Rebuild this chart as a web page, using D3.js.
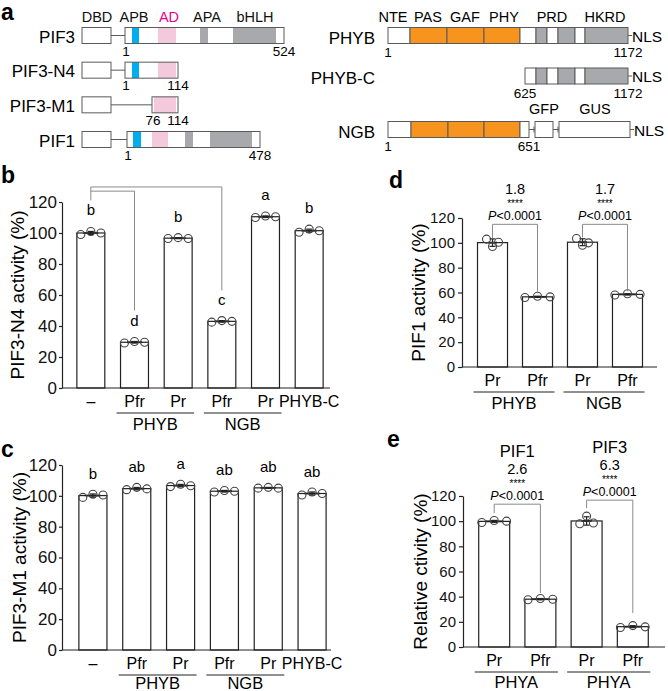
<!DOCTYPE html>
<html>
<head>
<meta charset="utf-8">
<script src="https://cdn.jsdelivr.net/npm/d3@7"></script>
<style>
body { margin: 0; background: #fff; }
svg { font-family: "Liberation Sans", Arial, sans-serif; }
</style>
</head>
<body>
<svg id="fig" width="668" height="691"></svg>
<script>
// ---- panel a: PIF constructs (diagram units, DBD starts at 0)
const pifNames = ["PIF3", "PIF3-N4", "PIF3-M1", "PIF1"];
const pifBody = [[43, 202], [43, 96], [70, 96], [45, 178]];
const pifDomains = [
  [["apb", 50, 57], ["ad", 76, 94], ["apa", 118, 126], ["bhlh", 151, 194]],
  [["apb", 50, 57], ["ad", 76, 94]],
  [["ad", 72, 94]],
  [["apb", 51, 59], ["ad", 70, 86], ["apa", 103, 111], ["bhlh", 128, 170]]
];
const pifEnds = [["1", "524"], ["1", "114"], ["76", "114"], ["1", "478"]];
const pifHeads = [["DBD", 15], ["APB", 52], ["AD", 87], ["APA", 125], ["bHLH", 173]];

// ---- panel a: phytochrome constructs
const phyNames = ["PHYB", "PHYB-C", "NGB"];
const phySegs = [
  [["w", 0, 22], ["o", 22, 59], ["o", 59, 96], ["o", 96, 132], ["w", 132, 148], ["g", 148, 159], ["w", 159, 170], ["g", 170, 187], ["w", 187, 197], ["g", 197, 240]],
  [["w", 137, 148], ["g", 148, 159], ["w", 159, 170], ["g", 170, 187], ["w", 187, 197], ["g", 197, 240]],
  [["w", 0, 23], ["o", 23, 60], ["o", 60, 96], ["o", 96, 132], ["w", 132, 141], ["w", 147, 165], ["w", 171, 242]]
];
const phyEnds = [[["1", 0], ["1172", 240]], [["625", 137], ["1172", 240]], [["1", 0], ["651", 141]]];
const phyHeads = [["NTE", 5], ["PAS", 40], ["GAF", 77], ["PHY", 116], ["PRD", 164], ["HKRD", 217]];
const ngbHeads = [["GFP", 156], ["GUS", 207]];

// ---- panel b
const bCats = ["\u2013", "Pfr", "Pr", "Pfr", "Pr", "PHYB-C"];
const bReps = [[99, 101, 100], [29, 30, 29.5], [96.5, 97, 96.5], [42.5, 43.5, 43], [110, 111, 110.5], [100.5, 102.5, 101.5]];
const bLetters = ["b", "d", "b", "c", "a", "b"];
const bGroups = [["PHYB", 1, 2], ["NGB", 3, 4]];

// ---- panel c
const cCats = ["\u2013", "Pfr", "Pr", "Pfr", "Pr", "PHYB-C"];
const cReps = [[99, 101, 100.5], [104, 105.5, 104.5], [106, 107.5, 106.5], [102.5, 103.5, 103], [105, 105.5, 105], [100.5, 102.5, 101.5]];
const cLetters = ["b", "ab", "a", "ab", "ab", "ab"];
const cGroups = [["PHYB", 1, 2], ["NGB", 3, 4]];

// ---- panel d
const dCats = ["Pr", "Pfr", "Pr", "Pfr"];
const dReps = [[103, 97, 100.5], [56, 57, 56.5], [103.5, 98, 100], [58, 59, 58.5]];
const dGroups = [["PHYB", 0, 1], ["NGB", 2, 3]];
const dStats = [["1.8", "P<0.0001"], ["1.7", "P<0.0001"]];

// ---- panel e
const eCats = ["Pr", "Pfr", "Pr", "Pfr"];
const eReps = [[99, 100.5, 100], [37.5, 38.5, 38], [98, 104, 98.5], [15.5, 17, 16]];
const eGroups = [["PHYA", 0, 1], ["PHYA", 2, 3]];
const eStats = [["PIF1", "2.6", "P<0.0001"], ["PIF3", "6.3", "P<0.0001"]];

const yTicks = [0, 20, 40, 60, 80, 100, 120];

const svg = d3.select("#fig");
const fill = {w: "#fff", o: "#f7941d", g: "#a7a9ac", apb: "#00aeef", ad: "#f5c9dc", apa: "#a7a9ac", bhlh: "#a7a9ac"};
const boxStroke = "#5a5a5a";

function panelLetter(t, x, y) {
  svg.append("text").attr("x", x).attr("y", y).attr("font-size", 23)
    .attr("font-weight", "bold").text(t);
}

// ================= panel a, left
panelLetter("a", 1, 20);
const xPif = d3.scaleLinear().domain([0, 202]).range([82, 284]);
const yPif = d3.scalePoint().domain(pifNames).range([35.5, 139.5]);
const bh = 16;

const ga = svg.append("g");
ga.selectAll("text.head").data(pifHeads).enter().append("text")
  .attr("x", d => xPif(d[1])).attr("y", 22).attr("text-anchor", "middle")
  .attr("font-size", 14.5).attr("fill", d => d[0] === "AD" ? "#ec008c" : "#111")
  .text(d => d[0]);

pifNames.forEach((name, i) => {
  const cy = yPif(name);
  const top = cy - bh / 2;
  ga.append("text").attr("x", 75).attr("y", cy + 7).attr("text-anchor", "end")
    .attr("font-size", 17).text(name);
  // DBD box and linker
  ga.append("line").attr("x1", xPif(29)).attr("x2", xPif(pifBody[i][0]))
    .attr("y1", cy).attr("y2", cy).attr("stroke", boxStroke);
  ga.append("rect").attr("x", xPif(0)).attr("y", top)
    .attr("width", xPif(29) - xPif(0)).attr("height", bh)
    .attr("fill", "#fff").attr("stroke", boxStroke);
  ga.append("rect").attr("x", xPif(pifBody[i][0])).attr("y", top)
    .attr("width", xPif(pifBody[i][1]) - xPif(pifBody[i][0])).attr("height", bh)
    .attr("fill", "#fff");
  ga.selectAll(null).data(pifDomains[i]).enter().append("rect")
    .attr("x", d => xPif(d[1])).attr("y", top)
    .attr("width", d => xPif(d[2]) - xPif(d[1])).attr("height", bh)
    .attr("fill", d => fill[d[0]]);
  ga.append("rect").attr("x", xPif(pifBody[i][0])).attr("y", top)
    .attr("width", xPif(pifBody[i][1]) - xPif(pifBody[i][0])).attr("height", bh)
    .attr("fill", "none").attr("stroke", boxStroke);
  ga.append("text").attr("x", xPif(pifBody[i][0]) + 1).attr("y", cy + 20)
    .attr("text-anchor", "middle").attr("font-size", 13.5).text(pifEnds[i][0]);
  ga.append("text").attr("x", xPif(pifBody[i][1])).attr("y", cy + 20)
    .attr("text-anchor", "middle").attr("font-size", 13.5).text(pifEnds[i][1]);
});

// ================= panel a, right
const xPhy = d3.scaleLinear().domain([0, 240]).range([388, 628]);
const yPhy = d3.scaleOrdinal().domain(phyNames).range([35.5, 76, 129.5]);
const gp = svg.append("g");
gp.selectAll("text.head").data(phyHeads).enter().append("text")
  .attr("x", d => xPhy(d[1])).attr("y", 22).attr("text-anchor", "middle")
  .attr("font-size", 14.5).text(d => d[0]);
gp.selectAll("text.ngbhead").data(ngbHeads).enter().append("text")
  .attr("x", d => xPhy(d[1])).attr("y", 114).attr("text-anchor", "middle")
  .attr("font-size", 14.5).text(d => d[0]);

phyNames.forEach((name, i) => {
  const cy = yPhy(name);
  const top = cy - bh / 2;
  const segs = phySegs[i];
  gp.append("text").attr("x", 375).attr("y", cy + 8).attr("text-anchor", "end")
    .attr("font-size", 17).text(name);
  segs.forEach((s, k) => {
    if (k > 0 && segs[k - 1][2] < s[1]) {
      const x1 = xPhy(segs[k - 1][2]), x2 = xPhy(s[1]);
      gp.append("line").attr("x1", x1).attr("x2", x2)
        .attr("y1", cy).attr("y2", cy).attr("stroke", boxStroke);
      gp.append("line").attr("x1", x2 - 1).attr("x2", x2 - 1)
        .attr("y1", cy - 3).attr("y2", cy + 3).attr("stroke", boxStroke);
    }
  });
  gp.selectAll(null).data(segs).enter().append("rect")
    .attr("x", d => xPhy(d[1])).attr("y", top)
    .attr("width", d => xPhy(d[2]) - xPhy(d[1])).attr("height", bh)
    .attr("fill", d => fill[d[0]]).attr("stroke", boxStroke);
  const last = segs[segs.length - 1][2];
  gp.append("line").attr("x1", xPhy(last)).attr("x2", xPhy(last) + 4)
    .attr("y1", cy).attr("y2", cy).attr("stroke", boxStroke);
  gp.append("text").attr("x", xPhy(last) + 4).attr("y", cy + 6)
    .attr("font-size", 15.5).text("NLS");
  gp.selectAll(null).data(phyEnds[i]).enter().append("text")
    .attr("x", d => xPhy(d[1])).attr("y", cy + 21.5).attr("text-anchor", "middle")
    .attr("font-size", 13.5).text(d => d[0]);
});

// ================= bar panels
function barPanel(p) {
  const g = svg.append("g");
  const n = p.cats.length;
  const x = d3.scaleBand().domain(d3.range(n)).range(p.xr)
    .paddingInner(p.pi).paddingOuter(p.po);
  const y = d3.scaleLinear().domain([0, 120]).range(p.yr);
  const bw = x.bandwidth();
  const cx = i => x(i) + bw / 2;
  const means = p.reps.map(r => d3.mean(r));

  // bars
  g.selectAll("rect.bar").data(means).enter().append("rect")
    .attr("x", (d, i) => x(i)).attr("y", d => y(d))
    .attr("width", bw).attr("height", d => y(0) - y(d))
    .attr("fill", "#fff").attr("stroke", "#222").attr("stroke-width", 1.2);

  // axes
  const ax = d3.axisLeft(y).tickValues(yTicks).tickSize(p.tickLen).tickSizeOuter(0).tickPadding(p.tickPad);
  const gax = g.append("g").attr("transform", `translate(${p.axisX},0)`).call(ax);
  gax.select(".domain").attr("stroke", "#222").attr("stroke-width", 1.2);
  gax.selectAll(".tick line").attr("stroke", "#222").attr("stroke-width", 1.2);
  gax.selectAll(".tick text").attr("font-size", p.tickFs).attr("fill", "#111")
    .attr("font-family", "'Liberation Sans', Arial, sans-serif");
  g.append("line").attr("x1", p.axisX).attr("x2", p.axisEnd)
    .attr("y1", y(0)).attr("y2", y(0)).attr("stroke", "#222").attr("stroke-width", 1.2);

  // error bars + points
  p.reps.forEach((r, i) => {
    const m = d3.mean(r), sd = d3.deviation(r);
    const sp = (p.spread ? p.spread[i] : 0.36) * bw;
    g.append("line").attr("x1", cx(i) - sp * 0.75).attr("x2", cx(i) + sp * 0.75)
      .attr("y1", y(m)).attr("y2", y(m)).attr("stroke", "#222").attr("stroke-width", 1.8);
    g.append("line").attr("x1", cx(i)).attr("x2", cx(i))
      .attr("y1", y(m - sd)).attr("y2", y(m + sd)).attr("stroke", "#222").attr("stroke-width", 1.2);
    [m - sd, m + sd].forEach(v => g.append("line")
      .attr("x1", cx(i) - 3).attr("x2", cx(i) + 3).attr("y1", y(v)).attr("y2", y(v))
      .attr("stroke", "#222").attr("stroke-width", 1.2));
    g.selectAll(null).data(r).enter().append("circle")
      .attr("cx", (d, k) => cx(i) + (k - 1) * sp).attr("cy", d => y(d))
      .attr("r", 4).attr("fill", "none").attr("stroke", "#444").attr("stroke-width", 1.1);
  });

  // letters
  if (p.letters) {
    g.selectAll("text.let").data(p.letters).enter().append("text")
      .attr("x", (d, i) => cx(i)).attr("y", (d, i) => y(d3.max(p.reps[i])) - p.letDy)
      .attr("text-anchor", "middle").attr("font-size", 15).text(d => d);
  }

  // category + group labels
  g.selectAll("text.cat").data(p.cats).enter().append("text")
    .attr("x", (d, i) => cx(i)).attr("y", y(0) + 18.5)
    .attr("text-anchor", "middle").attr("font-size", 16).text(d => d);
  p.groups.forEach(gr => {
    g.append("line").attr("x1", x(gr[1]) - 4).attr("x2", x(gr[2]) + bw + 2)
      .attr("y1", y(0) + 25).attr("y2", y(0) + 25).attr("stroke", "#222").attr("stroke-width", 1.2);
    g.append("text").attr("x", (x(gr[1]) - 4 + x(gr[2]) + bw + 2) / 2).attr("y", y(0) + p.groupDy)
      .attr("text-anchor", "middle").attr("font-size", 16.5).text(gr[0]);
  });

  // y label
  const my = (p.yr[0] + p.yr[1]) / 2;
  g.append("text").attr("transform", `translate(${p.ylabX},${my}) rotate(-90)`)
    .attr("text-anchor", "middle").attr("font-size", 19).text(p.ylab);

  // brackets
  (p.brackets || []).forEach(b => {
    const pts = [[cx(b.from), y(b.start)], [cx(b.from), y(b.level)], [cx(b.to), y(b.level)], [cx(b.to), y(b.end)]];
    g.append("path").attr("d", d3.line()(pts)).attr("fill", "none")
      .attr("stroke", "#8a8a8a").attr("stroke-width", 1);
    const mx = (cx(b.from) + cx(b.to)) / 2;
    (b.texts || []).forEach(t => {
      const tx = g.append("text").attr("x", mx).attr("y", y(b.level) + t[1])
        .attr("text-anchor", "middle").attr("font-size", t[2]);
      if (t[0].startsWith("P<")) {
        tx.append("tspan").attr("font-style", "italic").text("P");
        tx.append("tspan").text(t[0].slice(1));
      } else tx.text(t[0]);
    });
  });
}

barPanel({
  cats: bCats, reps: bReps, letters: bLetters, groups: bGroups,
  xr: [69, 331], pi: 0.36, po: 0.18, yr: [388, 202], axisX: 62, axisEnd: 330,
  tickFs: 17, tickLen: 3, tickPad: 2, groupDy: 41.5, letDy: 16,
  ylab: "PIF3-N4 activity (%)", ylabX: 24,
  brackets: [
    {from: 0, to: 3, start: 121, level: 129.7, end: 63},
    {from: 0, to: 1, start: 127, level: 127, end: 50}
  ]
});
panelLetter("b", 1, 183);

barPanel({
  cats: cCats, reps: cReps, letters: cLetters, groups: cGroups,
  xr: [71, 334], pi: 0.36, po: 0.18, yr: [650, 465], axisX: 62, axisEnd: 331,
  tickFs: 17, tickLen: 3, tickPad: 2, groupDy: 38.5, letDy: 15,
  ylab: "PIF3-M1 activity (%)", ylabX: 25.5
});
panelLetter("c", 1, 457);

const starFs = 10;
barPanel({
  cats: dCats, reps: dReps, groups: dGroups, spread: [0.2, 0.42, 0.2, 0.42],
  xr: [470, 650], pi: 0.333, po: 0.167, yr: [367, 218], axisX: 462, axisEnd: 657,
  tickFs: 15, tickLen: 4, tickPad: 3, groupDy: 41.5,
  ylab: "PIF1 activity (%)", ylabX: 425,
  brackets: [
    {from: 0, to: 1, start: 103.6, level: 114.9, end: 59.4,
     texts: [[dStats[0][0], -30, 14.5], ["****", -17.5, starFs], [dStats[0][1], -4, 12.5]]},
    {from: 2, to: 3, start: 104.4, level: 114.9, end: 61,
     texts: [[dStats[1][0], -30, 14.5], ["****", -17.5, starFs], [dStats[1][1], -4, 12.5]]}
  ]
});
panelLetter("d", 389, 188);

barPanel({
  cats: eCats, reps: eReps, groups: eGroups, spread: [0.4, 0.4, 0.22, 0.4],
  xr: [471, 656], pi: 0.33, po: 0.167, yr: [647, 496], axisX: 463, axisEnd: 665,
  tickFs: 15, tickLen: 4, tickPad: 3, groupDy: 41,
  ylab: "Relative ctivity (%)", ylabX: 427,
  brackets: [
    {from: 0, to: 1, start: 106.3, level: 113.5, end: 42.9,
     texts: [[eStats[0][0], -47, 16.5], [eStats[0][1], -30, 14.5], ["****", -17.5, starFs], [eStats[0][2], -4, 12.5]]},
    {from: 2, to: 3, start: 110.3, level: 116.7, end: 27,
     texts: [[eStats[1][0], -47, 16.5], [eStats[1][1], -30, 14.5], ["****", -17.5, starFs], [eStats[1][2], -4, 12.5]]}
  ]
});
panelLetter("e", 387, 447);
</script>
</body>
</html>
